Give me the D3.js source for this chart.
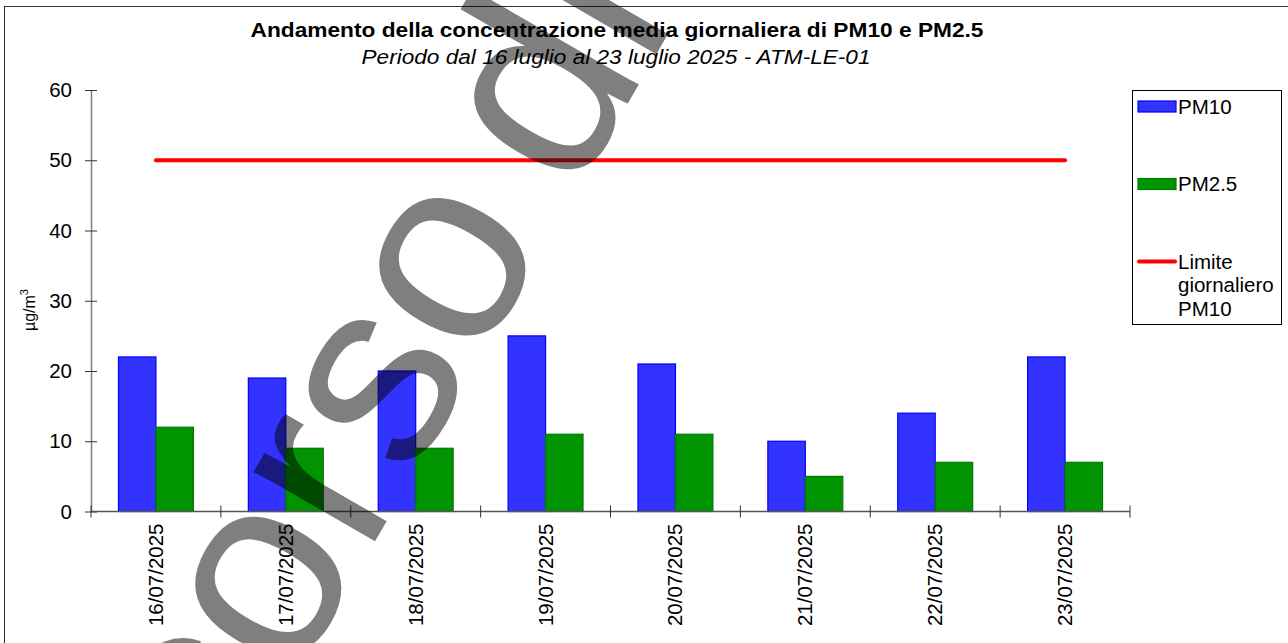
<html>
<head>
  <style>
    body { margin: 0; background: #fff; }
    svg { display: block; font-family: "Liberation Sans", Arial, sans-serif; }
  </style>
</head>
<body>
<div id="chart"></div>
<script src="https://d3js.org/d3.v7.min.js"></script>
<script>
  // chart data
  var dates = ["16/07/2025", "17/07/2025", "18/07/2025", "19/07/2025",
               "20/07/2025", "21/07/2025", "22/07/2025", "23/07/2025"];
  var pm10 = [22, 19, 20, 25, 21, 10, 14, 22];
  var pm25 = [12, 9, 9, 11, 11, 5, 7, 7];
  var limitPM10 = 50;
  var seriesNames = ["PM10", "PM2.5"];
  var yTicks = [0, 10, 20, 30, 40, 50, 60];

  var W = 1288, H = 643;
  var svg = d3.select("#chart").append("svg").attr("width", W).attr("height", H);

  // outer frame
  svg.append("rect").attr("x", 4.5).attr("y", 6.5).attr("width", 1300).attr("height", 660)
    .attr("fill", "#fff").attr("stroke", "#333").attr("stroke-width", 1);

  var plotL = 91, plotR = 1130, plotT = 90, plotB = 511.5;

  var x = d3.scaleBand().domain(dates).range([plotL, plotR]).paddingInner(0.423).paddingOuter(0.2115);
  var x1 = d3.scaleBand().domain(seriesNames).range([0, x.bandwidth()]);
  var y = d3.scaleLinear().domain([0, 60]).range([plotB, plotT]);

  var rows = dates.map(function (d, i) { return { date: d, PM10: pm10[i], "PM2.5": pm25[i] }; });
  var fills = { "PM10": "#3333ff", "PM2.5": "#009400" };
  var strokes = { "PM10": "#0000ff", "PM2.5": "#007a00" };

  // bars
  var g = svg.append("g");
  rows.forEach(function (r) {
    seriesNames.forEach(function (s) {
      g.append("rect")
        .attr("x", x(r.date) + x1(s))
        .attr("y", y(r[s]))
        .attr("width", x1.bandwidth())
        .attr("height", y(0) - y(r[s]))
        .attr("fill", fills[s])
        .attr("stroke", strokes[s])
        .attr("stroke-width", 1.2);
    });
  });

  // limit line
  var cx = function (d) { return x(d) + x.bandwidth() / 2; };
  svg.append("line")
    .attr("x1", cx(dates[0])).attr("x2", cx(dates[dates.length - 1]))
    .attr("y1", y(limitPM10)).attr("y2", y(limitPM10))
    .attr("stroke", "#ff0000").attr("stroke-width", 4).attr("stroke-linecap", "round");

  // y axis
  var yAxis = svg.append("g").attr("transform", "translate(" + plotL + ",0)")
    .call(d3.axisLeft(y).tickValues(yTicks).tickSize(6).tickSizeOuter(0).tickPadding(13));
  yAxis.select(".domain").attr("stroke", "#808080").attr("stroke-width", 1.5);
  yAxis.selectAll(".tick line").attr("x1", -6).attr("x2", 6).attr("stroke", "#333");
  yAxis.selectAll(".tick text").attr("font-size", 20.5).attr("fill", "#000")
    .attr("font-family", "Liberation Sans, Arial, sans-serif");

  // x axis
  var xAxis = svg.append("g").attr("transform", "translate(0," + plotB + ")");
  xAxis.append("line").attr("x1", plotL).attr("x2", plotR).attr("stroke", "#555").attr("stroke-width", 1.5);
  var bounds = dates.map(function (d) { return x(d) - x.step() * x.paddingInner() / 2; });
  bounds.push(plotR);
  xAxis.selectAll("line.tk").data(bounds).enter().append("line").attr("class", "tk")
    .attr("x1", function (d) { return d; }).attr("x2", function (d) { return d; })
    .attr("y1", -6).attr("y2", 6).attr("stroke", "#333");
  xAxis.selectAll("text").data(dates).enter().append("text")
    .attr("transform", function (d) { return "translate(" + (cx(d) + 7) + ",12) rotate(-90)"; })
    .attr("text-anchor", "end")
    .attr("font-size", 20.5)
    .text(function (d) { return d; });

  // y axis title
  var yt = svg.append("text").attr("transform", "translate(35,310) rotate(-90)")
    .attr("text-anchor", "middle").attr("font-size", 16);
  yt.append("tspan").text("\u00b5g/m");
  yt.append("tspan").attr("font-size", 11).attr("dy", -7).text("3");

  // titles (slightly stretched horizontally, like the original)
  svg.append("text").attr("transform", "translate(617,37) scale(1.165,1)").attr("text-anchor", "middle")
    .attr("font-size", 19.5).attr("font-weight", "bold")
    .text("Andamento della concentrazione media giornaliera di PM10 e PM2.5");
  svg.append("text").attr("transform", "translate(616,64) scale(1.16,1)").attr("text-anchor", "middle")
    .attr("font-size", 19.5).attr("font-style", "italic")
    .text("Periodo dal 16 luglio al 23 luglio 2025 - ATM-LE-01");

  // legend
  var lg = svg.append("g");
  lg.append("rect").attr("x", 1132.5).attr("y", 90.5).attr("width", 149).attr("height", 234)
    .attr("fill", "#fff").attr("stroke", "#000");
  var legendRows = [106.5, 184, 261.5];
  seriesNames.forEach(function (s, i) {
    lg.append("rect").attr("x", 1138).attr("y", legendRows[i] - 5.5).attr("width", 38).attr("height", 11)
      .attr("fill", fills[s]).attr("stroke", strokes[s]).attr("stroke-width", 1.2);
    lg.append("text").attr("x", 1178).attr("y", legendRows[i] + 7).attr("font-size", 20.5).text(s);
  });
  lg.append("line").attr("x1", 1139).attr("x2", 1175).attr("y1", legendRows[2]).attr("y2", legendRows[2])
    .attr("stroke", "#ff0000").attr("stroke-width", 4).attr("stroke-linecap", "round");
  var lt = lg.append("text").attr("font-size", 20.5);
  ["Limite", "giornaliero", "PM10"].forEach(function (t, i) {
    lt.append("tspan").attr("x", 1178).attr("y", 268.5 + i * 23.5).text(t);
  });

  // watermark
  var wm = svg.append("text")
    .attr("transform", "translate(86,1042) rotate(-60)")
    .attr("font-size", 265)
    .attr("fill", "#000").attr("fill-opacity", 0.5);
  wm.append("tspan").text("in corso");
  wm.append("tspan").attr("dx", -26).text(" di validazione");
</script>
</body>
</html>
